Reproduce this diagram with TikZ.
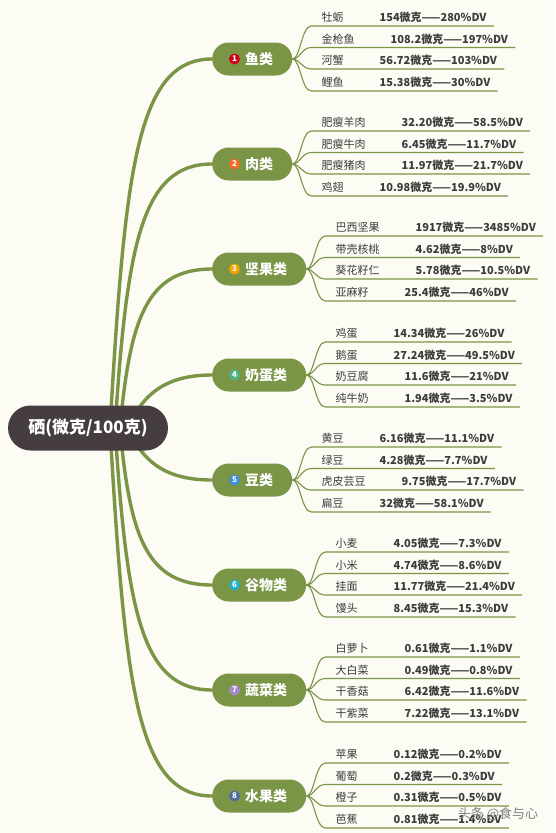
\documentclass[tikz,border=0pt]{standalone}
\usepackage{fontspec}
\setmainfont{Noto Sans CJK SC}
\usetikzlibrary{positioning,calc,backgrounds}

\definecolor{paper}{HTML}{FCFBF4}
\definecolor{stem}{HTML}{7A9545}
\definecolor{rootfill}{HTML}{453D3F}
\definecolor{ink}{HTML}{3C3C3C}
\definecolor{n1}{HTML}{D0021B}
\definecolor{n2}{HTML}{F26B21}
\definecolor{n3}{HTML}{F5A300}
\definecolor{n4}{HTML}{4FB585}
\definecolor{n5}{HTML}{3B8FDB}
\definecolor{n6}{HTML}{20B2CC}
\definecolor{n7}{HTML}{A68BCB}
\definecolor{n8}{HTML}{4F6E9B}

\newcommand{\fooditem}[2]{\hspace*{10pt}#1\hspace{36pt}\textbf{#2}\hspace*{7pt}}

\tikzset{
  bough/.style={line width=3.4pt,draw=stem,line cap=round},
  twig/.style={line width=1.1pt,draw=stem},
  rootbox/.style={fill=rootfill,text=white,font=\fontsize{17}{20}\selectfont\bfseries,rounded corners=22.5pt,minimum width=160pt,minimum height=45pt,inner sep=0pt},
  cat/.style={fill=stem,text=white,font=\fontsize{14}{16}\selectfont\bfseries,rounded corners=16.5pt,minimum height=33pt,inner xsep=19pt,inner ysep=0pt,anchor=west},
  badge/.style={circle,inner sep=0pt,minimum size=11pt,text=white,font=\fontsize{8}{8}\selectfont\bfseries},
  leaf/.style={anchor=south west,inner xsep=0pt,inner ysep=2pt,text height=9pt,text depth=2pt,font=\fontsize{11}{13}\selectfont,text=ink},
  wmark/.style={text=gray,font=\fontsize{13}{15}\selectfont}
}

\begin{document}
\begin{tikzpicture}[x=1pt,y=-1pt]
  \useasboundingbox (0,0) rectangle (555,833);
  \begin{scope}[on background layer]
    \fill[paper] (0,0) rectangle (555,833);
  \end{scope}

  % centre and groups
  \node[rootbox] (r) at (88,428) {硒(微克/100克)};
  \node[cat] (c1) at (212,59) {\hspace*{14pt}鱼类};
  \node[cat] (c2) at (212,164) {\hspace*{14pt}肉类};
  \node[cat] (c3) at (212,269) {\hspace*{14pt}坚果类};
  \node[cat] (c4) at (212,375) {\hspace*{14pt}奶蛋类};
  \node[cat] (c5) at (212,480) {\hspace*{14pt}豆类};
  \node[cat] (c6) at (212,585) {\hspace*{14pt}谷物类};
  \node[cat] (c7) at (212,690) {\hspace*{14pt}蔬菜类};
  \node[cat] (c8) at (212,796) {\hspace*{14pt}水果类};

  \node[badge,fill=n1] (b1) at ([xshift=22.5pt]c1.west) {1};
  \node[badge,fill=n2] (b2) at ([xshift=22.5pt]c2.west) {2};
  \node[badge,fill=n3] (b3) at ([xshift=22.5pt]c3.west) {3};
  \node[badge,fill=n4] (b4) at ([xshift=22.5pt]c4.west) {4};
  \node[badge,fill=n5] (b5) at ([xshift=22.5pt]c5.west) {5};
  \node[badge,fill=n6] (b6) at ([xshift=22.5pt]c6.west) {6};
  \node[badge,fill=n7] (b7) at ([xshift=22.5pt]c7.west) {7};
  \node[badge,fill=n8] (b8) at ([xshift=22.5pt]c8.west) {8};

  % fish
  \node[leaf] (f11) at ($(c1.east)+(19,-33)$) {\fooditem{牡蛎}{154微克——280\%DV}};
  \node[leaf] (f12) at ($(c1.east)+(19,-11.5)$) {\fooditem{金枪鱼}{108.2微克——197\%DV}};
  \node[leaf] (f13) at ($(c1.east)+(19,10)$) {\fooditem{河蟹}{56.72微克——103\%DV}};
  \node[leaf] (f14) at ($(c1.east)+(19,32)$) {\fooditem{鲤鱼}{15.38微克——30\%DV}};
  % meat
  \node[leaf] (f21) at ($(c2.east)+(19,-33)$) {\fooditem{肥瘦羊肉}{32.20微克——58.5\%DV}};
  \node[leaf] (f22) at ($(c2.east)+(19,-11.5)$) {\fooditem{肥瘦牛肉}{6.45微克——11.7\%DV}};
  \node[leaf] (f23) at ($(c2.east)+(19,10)$) {\fooditem{肥瘦猪肉}{11.97微克——21.7\%DV}};
  \node[leaf] (f24) at ($(c2.east)+(19,32)$) {\fooditem{鸡翅}{10.98微克——19.9\%DV}};
  % nuts
  \node[leaf] (f31) at ($(c3.east)+(19,-33)$) {\fooditem{巴西坚果}{1917微克——3485\%DV}};
  \node[leaf] (f32) at ($(c3.east)+(19,-11.5)$) {\fooditem{带壳核桃}{4.62微克——8\%DV}};
  \node[leaf] (f33) at ($(c3.east)+(19,10)$) {\fooditem{葵花籽仁}{5.78微克——10.5\%DV}};
  \node[leaf] (f34) at ($(c3.east)+(19,32)$) {\fooditem{亚麻籽}{25.4微克——46\%DV}};
  % milk and eggs
  \node[leaf] (f41) at ($(c4.east)+(19,-33)$) {\fooditem{鸡蛋}{14.34微克——26\%DV}};
  \node[leaf] (f42) at ($(c4.east)+(19,-11.5)$) {\fooditem{鹅蛋}{27.24微克——49.5\%DV}};
  \node[leaf] (f43) at ($(c4.east)+(19,10)$) {\fooditem{奶豆腐}{11.6微克——21\%DV}};
  \node[leaf] (f44) at ($(c4.east)+(19,32)$) {\fooditem{纯牛奶}{1.94微克——3.5\%DV}};
  % beans
  \node[leaf] (f51) at ($(c5.east)+(19,-33)$) {\fooditem{黄豆}{6.16微克——11.1\%DV}};
  \node[leaf] (f52) at ($(c5.east)+(19,-11.5)$) {\fooditem{绿豆}{4.28微克——7.7\%DV}};
  \node[leaf] (f53) at ($(c5.east)+(19,10)$) {\fooditem{虎皮芸豆}{9.75微克——17.7\%DV}};
  \node[leaf] (f54) at ($(c5.east)+(19,32)$) {\fooditem{扁豆}{32微克——58.1\%DV}};
  % grains
  \node[leaf] (f61) at ($(c6.east)+(19,-33)$) {\fooditem{小麦}{4.05微克——7.3\%DV}};
  \node[leaf] (f62) at ($(c6.east)+(19,-11.5)$) {\fooditem{小米}{4.74微克——8.6\%DV}};
  \node[leaf] (f63) at ($(c6.east)+(19,10)$) {\fooditem{挂面}{11.77微克——21.4\%DV}};
  \node[leaf] (f64) at ($(c6.east)+(19,32)$) {\fooditem{馒头}{8.45微克——15.3\%DV}};
  % vegetables
  \node[leaf] (f71) at ($(c7.east)+(19,-33)$) {\fooditem{白萝卜}{0.61微克——1.1\%DV}};
  \node[leaf] (f72) at ($(c7.east)+(19,-11.5)$) {\fooditem{大白菜}{0.49微克——0.8\%DV}};
  \node[leaf] (f73) at ($(c7.east)+(19,10)$) {\fooditem{干香菇}{6.42微克——11.6\%DV}};
  \node[leaf] (f74) at ($(c7.east)+(19,32)$) {\fooditem{干紫菜}{7.22微克——13.1\%DV}};
  % fruit
  \node[leaf] (f81) at ($(c8.east)+(19,-33)$) {\fooditem{苹果}{0.12微克——0.2\%DV}};
  \node[leaf] (f82) at ($(c8.east)+(19,-11.5)$) {\fooditem{葡萄}{0.2微克——0.3\%DV}};
  \node[leaf] (f83) at ($(c8.east)+(19,10)$) {\fooditem{橙子}{0.31微克——0.5\%DV}};
  \node[leaf] (f84) at ($(c8.east)+(19,32)$) {\fooditem{芭蕉}{0.81微克——1.4\%DV}};

  \node[wmark] (w) at (498,814) {头条 @食与心};

  \begin{scope}[on background layer]
    \draw[bough] ([xshift=22pt]r.center) .. controls +(15,-260) and +(-75,0) .. (c1.west);
    \draw[bough] ([xshift=27pt]r.center) .. controls +(12,-185) and +(-70,0) .. (c2.west);
    \draw[bough] ([xshift=32pt]r.center) .. controls +(10,-110) and +(-65,0) .. (c3.west);
    \draw[bough] ([xshift=40pt]r.center) .. controls +(15,-35) and +(-45,0) .. (c4.west);
    \draw[bough] ([xshift=40pt]r.center) .. controls +(15,35) and +(-45,0) .. (c5.west);
    \draw[bough] ([xshift=32pt]r.center) .. controls +(10,110) and +(-65,0) .. (c6.west);
    \draw[bough] ([xshift=27pt]r.center) .. controls +(12,185) and +(-70,0) .. (c7.west);
    \draw[bough] ([xshift=22pt]r.center) .. controls +(15,260) and +(-75,0) .. (c8.west);
  \end{scope}

  \draw[twig] (c1.east) .. controls +(8,0) and +(-10,0) .. (f11.south west) -- (f11.south east);
  \draw[twig] (c1.east) .. controls +(8,0) and +(-10,0) .. (f12.south west) -- (f12.south east);
  \draw[twig] (c1.east) .. controls +(8,0) and +(-10,0) .. (f13.south west) -- (f13.south east);
  \draw[twig] (c1.east) .. controls +(8,0) and +(-10,0) .. (f14.south west) -- (f14.south east);
  \draw[twig] (c2.east) .. controls +(8,0) and +(-10,0) .. (f21.south west) -- (f21.south east);
  \draw[twig] (c2.east) .. controls +(8,0) and +(-10,0) .. (f22.south west) -- (f22.south east);
  \draw[twig] (c2.east) .. controls +(8,0) and +(-10,0) .. (f23.south west) -- (f23.south east);
  \draw[twig] (c2.east) .. controls +(8,0) and +(-10,0) .. (f24.south west) -- (f24.south east);
  \draw[twig] (c3.east) .. controls +(8,0) and +(-10,0) .. (f31.south west) -- (f31.south east);
  \draw[twig] (c3.east) .. controls +(8,0) and +(-10,0) .. (f32.south west) -- (f32.south east);
  \draw[twig] (c3.east) .. controls +(8,0) and +(-10,0) .. (f33.south west) -- (f33.south east);
  \draw[twig] (c3.east) .. controls +(8,0) and +(-10,0) .. (f34.south west) -- (f34.south east);
  \draw[twig] (c4.east) .. controls +(8,0) and +(-10,0) .. (f41.south west) -- (f41.south east);
  \draw[twig] (c4.east) .. controls +(8,0) and +(-10,0) .. (f42.south west) -- (f42.south east);
  \draw[twig] (c4.east) .. controls +(8,0) and +(-10,0) .. (f43.south west) -- (f43.south east);
  \draw[twig] (c4.east) .. controls +(8,0) and +(-10,0) .. (f44.south west) -- (f44.south east);
  \draw[twig] (c5.east) .. controls +(8,0) and +(-10,0) .. (f51.south west) -- (f51.south east);
  \draw[twig] (c5.east) .. controls +(8,0) and +(-10,0) .. (f52.south west) -- (f52.south east);
  \draw[twig] (c5.east) .. controls +(8,0) and +(-10,0) .. (f53.south west) -- (f53.south east);
  \draw[twig] (c5.east) .. controls +(8,0) and +(-10,0) .. (f54.south west) -- (f54.south east);
  \draw[twig] (c6.east) .. controls +(8,0) and +(-10,0) .. (f61.south west) -- (f61.south east);
  \draw[twig] (c6.east) .. controls +(8,0) and +(-10,0) .. (f62.south west) -- (f62.south east);
  \draw[twig] (c6.east) .. controls +(8,0) and +(-10,0) .. (f63.south west) -- (f63.south east);
  \draw[twig] (c6.east) .. controls +(8,0) and +(-10,0) .. (f64.south west) -- (f64.south east);
  \draw[twig] (c7.east) .. controls +(8,0) and +(-10,0) .. (f71.south west) -- (f71.south east);
  \draw[twig] (c7.east) .. controls +(8,0) and +(-10,0) .. (f72.south west) -- (f72.south east);
  \draw[twig] (c7.east) .. controls +(8,0) and +(-10,0) .. (f73.south west) -- (f73.south east);
  \draw[twig] (c7.east) .. controls +(8,0) and +(-10,0) .. (f74.south west) -- (f74.south east);
  \draw[twig] (c8.east) .. controls +(8,0) and +(-10,0) .. (f81.south west) -- (f81.south east);
  \draw[twig] (c8.east) .. controls +(8,0) and +(-10,0) .. (f82.south west) -- (f82.south east);
  \draw[twig] (c8.east) .. controls +(8,0) and +(-10,0) .. (f83.south west) -- (f83.south east);
  \draw[twig] (c8.east) .. controls +(8,0) and +(-10,0) .. (f84.south west) -- (f84.south east);
\end{tikzpicture}
\end{document}
